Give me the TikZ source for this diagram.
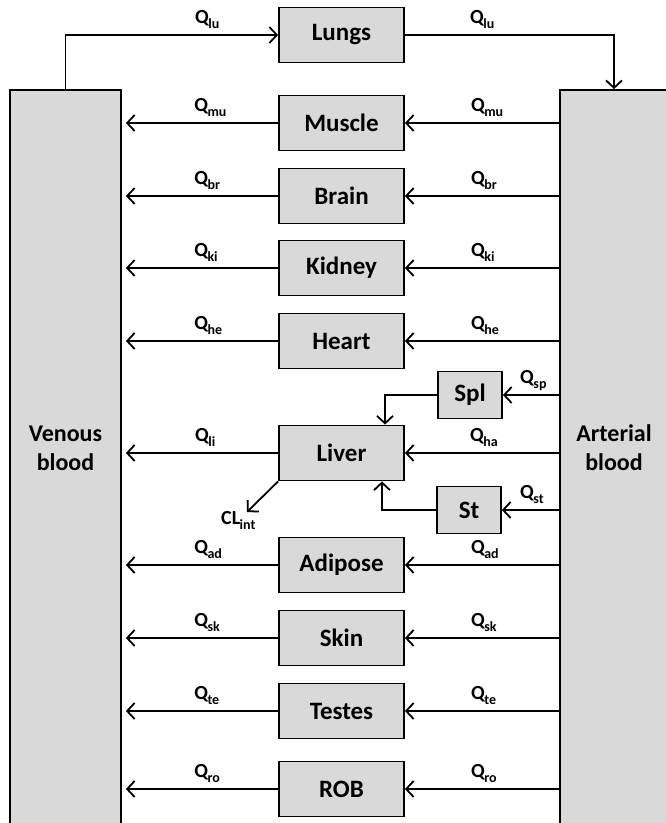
\documentclass[tikz,border=0pt]{standalone}
\usepackage{fontspec}
\setmainfont{Carlito}
\usetikzlibrary{arrows.meta}
\definecolor{boxgray}{HTML}{D9D9D9}
\newcommand{\Qsub}[2]{#1\kern-0.5pt\raisebox{-0.55ex}{\fontsize{14}{14}\selectfont #2}}
\begin{document}
\begin{tikzpicture}[x=1pt,y=-1pt,
  organ/.style={draw=black, line width=1.8pt, fill=boxgray, minimum width=125pt, minimum height=55pt, inner sep=0pt, font=\fontsize{25}{28}\selectfont\bfseries},
  small/.style={draw=black, line width=1.8pt, fill=boxgray, minimum width=64pt, minimum height=47pt, inner sep=0pt, font=\fontsize{25}{28}\selectfont\bfseries},
  blood/.style={draw=black, line width=1.8pt, fill=boxgray, inner sep=0pt},
  flow/.style={line width=1.8pt, -{Straight Barb[length=7.5pt,width=16pt,line width=1.8pt]}},
  qlab/.style={font=\fontsize{20}{22}\selectfont\bfseries, inner sep=0pt},
  btext/.style={font=\fontsize{24}{29}\selectfont\bfseries, align=center}
]
\useasboundingbox (0,0) rectangle (666,823);
\clip (0,0) rectangle (666,823);
% blood boxes
\node[blood, minimum width=111pt, minimum height=760pt] (ven) at (65.5,470) {};
\node[blood, minimum width=108pt, minimum height=760pt] (art) at (614,470) {};
\node[btext] (ventext) at (65.5,448) {Venous\\blood};
\node[btext] (arttext) at (614,448) {Arterial\\blood};
% organs
\node[organ] (lungs) at (341.5,35) {Lungs};
\node[organ] (muscle) at (341.5,123) {Muscle};
\node[organ] (brain) at (341.5,196) {Brain};
\node[organ] (kidney) at (341.5,268) {Kidney};
\node[organ] (heart) at (341.5,341) {Heart};
\node[organ] (liver) at (341.5,453) {Liver};
\node[organ] (adipose) at (341.5,565) {Adipose};
\node[organ] (skin) at (341.5,638) {Skin};
\node[organ] (testes) at (341.5,711) {Testes};
\node[organ] (rob) at (341.5,789) {ROB};
\node[small] (spl) at (470,395) {Spl};
\node[small] (st) at (469,510) {St};
% lungs loop
\draw[flow] (ven.north) |- (lungs.west);
\draw[flow] (lungs.east) -| (art.north);
\node[qlab, anchor=base west] (qlu1) at (195,23) {\Qsub{Q}{lu}};
\node[qlab, anchor=base west] (qlu2) at (470,23) {\Qsub{Q}{lu}};
% organ flows
\foreach \o/\s in {muscle/mu, brain/br, kidney/ki, heart/he, adipose/ad, skin/sk, testes/te, rob/ro}{
  \draw[flow] (art.west |- \o) -- (\o.east);
  \draw[flow, shorten >=4pt] (\o.west) -- (ven.east |- \o);
  \path (\o.west) ++(-84,-12) node[qlab, anchor=base west] {\Qsub{Q}{\s}};
  \path (\o.east) ++(66,-12) node[qlab, anchor=base west] {\Qsub{Q}{\s}};
}
% liver
\draw[flow] (art.west |- liver) -- (liver.east);
\draw[flow, shorten >=4pt] (liver.west) -- (ven.east |- liver);
\node[qlab, anchor=base west] (qli) at (195,441) {\Qsub{Q}{li}};
\node[qlab, anchor=base west] (qha) at (470,441) {\Qsub{Q}{ha}};
% spleen, stomach
\draw[flow] (art.west |- spl) -- (spl.east);
\draw[flow] (art.west |- st) -- (st.east);
\node[qlab, anchor=base west] (qsp) at (520,383) {\Qsub{Q}{sp}};
\node[qlab, anchor=base west] (qst) at (520,498) {\Qsub{Q}{st}};
\coordinate (splin) at (385,0);
\coordinate (stin) at (382,0);
\draw[flow] (spl.west) -| (splin |- liver.north);
\draw[flow] (st.west) -| (stin |- liver.south);
% clearance
\coordinate (clend) at (247,512);
\draw[flow] (liver.south west) -- (clend);
\node[qlab, anchor=base west] (cl) at (221,524) {\Qsub{CL}{int}};
\end{tikzpicture}
\end{document}
